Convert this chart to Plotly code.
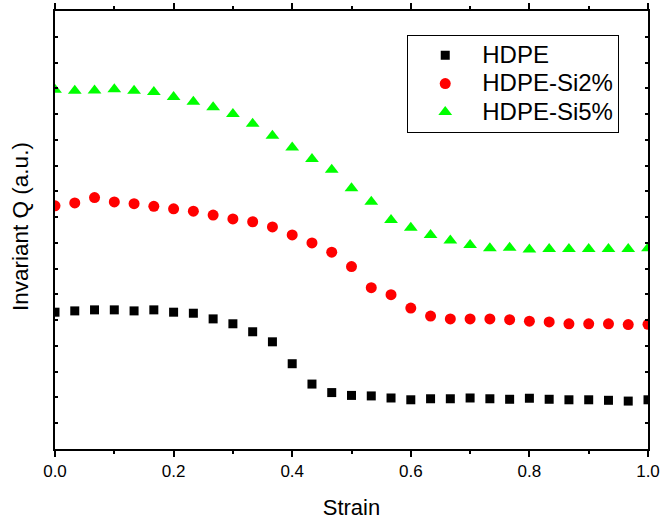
import plotly.graph_objects as go

# Strain values (31 equally spaced measurements from 0 to 1)
strain = [i / 30 for i in range(31)]

# Invariant Q in arbitrary units
q_hdpe = [5.31, 5.36, 5.40, 5.40, 5.36, 5.40, 5.31, 5.27, 5.05, 4.86,
          4.55, 4.16, 3.31, 2.52, 2.19, 2.08, 2.06, 1.98, 1.91, 1.95,
          1.95, 1.98, 1.95, 1.93, 1.97, 1.93, 1.91, 1.91, 1.89, 1.86, 1.91]
q_si2 = [9.44, 9.55, 9.76, 9.59, 9.52, 9.42, 9.32, 9.23, 9.08, 8.93,
         8.82, 8.62, 8.31, 8.00, 7.64, 7.08, 6.26, 5.99, 5.47, 5.16,
         5.05, 5.05, 5.05, 5.02, 4.96, 4.93, 4.86, 4.86, 4.86, 4.83, 4.84]
q_si5 = [13.94, 13.90, 13.91, 13.96, 13.90, 13.86, 13.66, 13.48, 13.26, 13.00,
         12.62, 12.16, 11.70, 11.26, 10.84, 10.12, 9.60, 8.89, 8.59, 8.31,
         8.09, 7.92, 7.79, 7.81, 7.74, 7.76, 7.76, 7.76, 7.76, 7.76, 7.79]

series_names = ["HDPE", "HDPE-Si2%", "HDPE-Si5%"]
x_tick_labels = ["0.0", "0.2", "0.4", "0.6", "0.8", "1.0"]

FONT = "Liberation Sans, Arial, sans-serif"


def legend_label(text):
    # larger glyphs than the row pitch that the legend font size gives
    return f'<span style="font-size:24px">{text}</span>'


fig = go.Figure()
fig.add_trace(go.Scatter(x=strain, y=q_hdpe, mode="markers", name=legend_label(series_names[0]),
                         marker=dict(symbol="square", size=9, color="black")))
fig.add_trace(go.Scatter(x=strain, y=q_si2, mode="markers", name=legend_label(series_names[1]),
                         marker=dict(symbol="circle", size=11, color="#ff0000")))
fig.add_trace(go.Scatter(x=strain, y=q_si5, mode="markers", name=legend_label(series_names[2]),
                         marker=dict(symbol="triangle-up", size=12, color="#00ff00")))

fig.update_layout(
    width=662, height=520,
    margin=dict(l=55, r=14, t=11, b=71, autoexpand=False),
    paper_bgcolor="white", plot_bgcolor="white",
    font=dict(family=FONT, color="black"),
    legend=dict(
        x=0.594, y=0.945, xanchor="left", yanchor="top",
        bordercolor="black", borderwidth=1, bgcolor="white",
        font=dict(size=19.5, family=FONT, color="black"),
        itemwidth=64, tracegroupgap=0,
    ),
    xaxis=dict(
        range=[0, 1], tickmode="array", automargin=False,
        tickvals=[0, 0.2, 0.4, 0.6, 0.8, 1.0], ticktext=x_tick_labels,
        ticks="outside", ticklen=6, tickwidth=1.5, tickcolor="black",
        minor=dict(dtick=0.1, ticks="outside", ticklen=3, tickwidth=1.5, tickcolor="black"),
        showline=True, linewidth=2, linecolor="black", mirror="ticks",
        showgrid=False, zeroline=False,
        tickfont=dict(size=17, family=FONT, color="black"),
        title=dict(text="Strain", font=dict(size=22, family=FONT, color="black"), standoff=26),
    ),
    yaxis=dict(
        range=[0, 17], dtick=1, showticklabels=False, automargin=False,
        ticks="inside", ticklen=3, tickwidth=1.5, tickcolor="black",
        showline=True, linewidth=2, linecolor="black", mirror="ticks",
        showgrid=False, zeroline=False,
    ),
    annotations=[dict(
        text="Invariant Q (a.u.)", textangle=-90,
        xref="paper", yref="paper", x=0, y=0.507,
        xanchor="center", yanchor="middle", xshift=-34, showarrow=False,
        font=dict(size=22.5, family=FONT, color="black"),
    )],
)

fig.write_html("out.html")
